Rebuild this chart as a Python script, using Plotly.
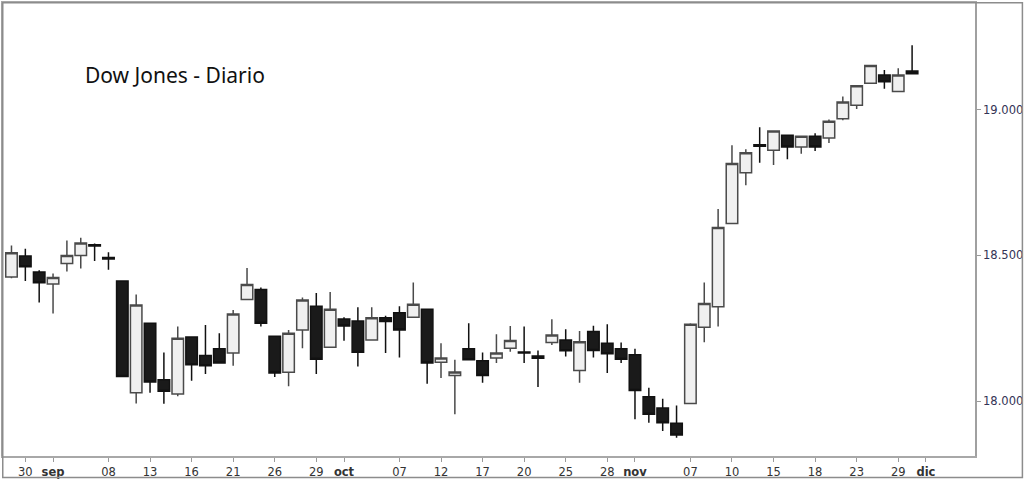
import plotly.graph_objects as go

# ---- data ----
dates = [
    "2016-08-29", "2016-08-30", "2016-08-31", "2016-09-01", "2016-09-02",
    "2016-09-06", "2016-09-07", "2016-09-08", "2016-09-09", "2016-09-12",
    "2016-09-13", "2016-09-14", "2016-09-15", "2016-09-16", "2016-09-19",
    "2016-09-20", "2016-09-21", "2016-09-22", "2016-09-23", "2016-09-26",
    "2016-09-27", "2016-09-28", "2016-09-29", "2016-09-30", "2016-10-03",
    "2016-10-04", "2016-10-05", "2016-10-06", "2016-10-07", "2016-10-10",
    "2016-10-11", "2016-10-12", "2016-10-13", "2016-10-14", "2016-10-17",
    "2016-10-18", "2016-10-19", "2016-10-20", "2016-10-21", "2016-10-24",
    "2016-10-25", "2016-10-26", "2016-10-27", "2016-10-28", "2016-10-31",
    "2016-11-01", "2016-11-02", "2016-11-03", "2016-11-04", "2016-11-07",
    "2016-11-08", "2016-11-09", "2016-11-10", "2016-11-11", "2016-11-14",
    "2016-11-15", "2016-11-16", "2016-11-17", "2016-11-18", "2016-11-21",
    "2016-11-22", "2016-11-23", "2016-11-25", "2016-11-28", "2016-11-29",
    "2016-11-30",
]
open_ = [
    18426, 18498, 18443, 18402, 18472, 18500, 18537, 18493, 18412, 18029,
    18267, 18074, 18025, 18220, 18157, 18180, 18165, 18349, 18383, 18223,
    18099, 18244, 18326, 18185, 18282, 18275, 18210, 18286, 18303, 18288,
    18315, 18134, 18088, 18180, 18139, 18148, 18182, 18169, 18155, 18201,
    18210, 18105, 18239, 18199, 18180, 18159, 18015, 17977, 17924, 17992,
    18254, 18324, 18610, 18784, 18880, 18861, 18912, 18872, 18909, 18903,
    18969, 19015, 19091, 19119, 19062, 19133,
]
high = [
    18534, 18523, 18449, 18438, 18551, 18561, 18541, 18511, 18413, 18366,
    18268, 18167, 18256, 18221, 18261, 18233, 18313, 18457, 18390, 18224,
    18244, 18356, 18371, 18375, 18288, 18322, 18322, 18293, 18326, 18407,
    18318, 18199, 18142, 18267, 18167, 18230, 18258, 18256, 18174, 18281,
    18247, 18241, 18259, 18264, 18201, 18180, 18046, 18008, 17985, 18267,
    18407, 18659, 18878, 18864, 18940, 18929, 18913, 18910, 18919, 18966,
    19045, 19083, 19153, 19136, 19142, 19221,
]
low = [
    18422, 18412, 18339, 18301, 18445, 18455, 18481, 18451, 18084, 17992,
    18029, 17991, 18017, 18070, 18093, 18130, 18122, 18348, 18256, 18083,
    18051, 18182, 18093, 18184, 18207, 18119, 18209, 18165, 18150, 18287,
    18060, 18080, 17955, 18141, 18063, 18131, 18170, 18131, 18049, 18193,
    18153, 18063, 18150, 18097, 18131, 17938, 17926, 17898, 17875, 17991,
    18202, 18256, 18609, 18741, 18818, 18810, 18830, 18849, 18858, 18886,
    18964, 19002, 19090, 19072, 19061, 19122,
]
close = [
    18509, 18461, 18406, 18424, 18500, 18543, 18532, 18488, 18085, 18330,
    18066, 18034, 18216, 18125, 18122, 18131, 18299, 18400, 18267, 18097,
    18233, 18347, 18144, 18315, 18258, 18168, 18286, 18273, 18244, 18333,
    18131, 18148, 18100, 18142, 18088, 18165, 18208, 18165, 18147, 18227,
    18173, 18204, 18174, 18163, 18144, 18037, 17955, 17926, 17884, 18264,
    18335, 18596, 18815, 18852, 18875, 18927, 18872, 18909, 18872, 18960,
    19026, 19082, 19152, 19096, 19119, 19123,
]

tick_dates = [
    "2016-08-30", "2016-09-01", "2016-09-08", "2016-09-13", "2016-09-16",
    "2016-09-21", "2016-09-26", "2016-09-29", "2016-10-03", "2016-10-07",
    "2016-10-12", "2016-10-17", "2016-10-20", "2016-10-25", "2016-10-28",
    "2016-11-01", "2016-11-07", "2016-11-10", "2016-11-15", "2016-11-18",
    "2016-11-23", "2016-11-29", "2016-12-01",
]
tick_labels = [
    "30", "<b>sep</b>", "08", "13", "16", "21", "26", "29", "<b>oct</b>", "07",
    "12", "17", "20", "25", "28", "<b>nov</b>", "07", "10", "15", "18",
    "23", "29", "<b>dic</b>",
]
y_ticks = [18000, 18500, 19000]
title_text = "Dow Jones - Diario"

# trading-day index positions (no gaps for weekends/holidays)
x_pos = list(range(len(dates)))
tick_pos = [dates.index(d) if d in dates else len(dates) for d in tick_dates]

fig = go.Figure()
fig.add_trace(go.Candlestick(
    x=x_pos, open=open_, high=high, low=low, close=close,
    increasing=dict(fillcolor="#f0f0f0", line=dict(color="#4a4a4a", width=1.5)),
    decreasing=dict(fillcolor="#1a1a1a", line=dict(color="#111111", width=1.5)),
    whiskerwidth=0,
    showlegend=False,
    hoverinfo="skip",
))

# plot area: x 1..975 px, y 1..456 px
W, H = 1024, 480
ml, mr, mt, mb = 1, 49, 1, 24
pw = W - ml - mr
ph = H - mt - mb

def px_to_paper_x(px):
    return (px - ml) / pw

def px_to_paper_y(py):
    return (H - mb - py) / ph

fig.update_layout(
    width=W, height=H,
    margin=dict(l=ml, r=mr, t=mt, b=mb, pad=0),
    paper_bgcolor="white",
    plot_bgcolor="white",
    separators=",.",
    boxgap=0.17,
    boxgroupgap=0,
    xaxis=dict(
        range=[-0.612, 69.54],
        tickmode="array",
        tickvals=tick_pos,
        ticktext=tick_labels,
        ticks="outside", ticklen=4, tickcolor="#9a9a9a", tickwidth=1,
        showgrid=False, zeroline=False,
        showline=True, linecolor="#a8a8a8", linewidth=1.5, mirror=True,
        tickfont=dict(family="DejaVu Sans", size=11.5, color="#333333"),
        rangeslider=dict(visible=False),
        fixedrange=True,
    ),
    yaxis=dict(
        side="right",
        range=[17812, 19366],
        tickmode="array",
        tickvals=y_ticks,
        tickformat=",.0f",
        ticks="outside", ticklen=4, tickcolor="#9a9a9a", tickwidth=1,
        showgrid=False, zeroline=False,
        showline=True, linecolor="#a0a0a0", linewidth=1.5, mirror=True,
        tickfont=dict(family="DejaVu Sans", size=11.5, color="#333355"),
        fixedrange=True,
    ),
    annotations=[dict(
        text=title_text,
        xref="paper", yref="paper",
        x=px_to_paper_x(81), y=px_to_paper_y(73),
        xanchor="left", yanchor="middle",
        showarrow=False,
        font=dict(family="Noto Sans", size=21, color="#111111"),
    )],
    shapes=[dict(
        type="rect", xref="paper", yref="paper",
        x0=px_to_paper_x(0.75), x1=px_to_paper_x(1022.5),
        y0=px_to_paper_y(477.5), y1=px_to_paper_y(0.75),
        line=dict(color="#8c8c8c", width=1.5),
        fillcolor="rgba(0,0,0,0)",
        layer="above",
    )],
)

fig.write_html("out.html")
